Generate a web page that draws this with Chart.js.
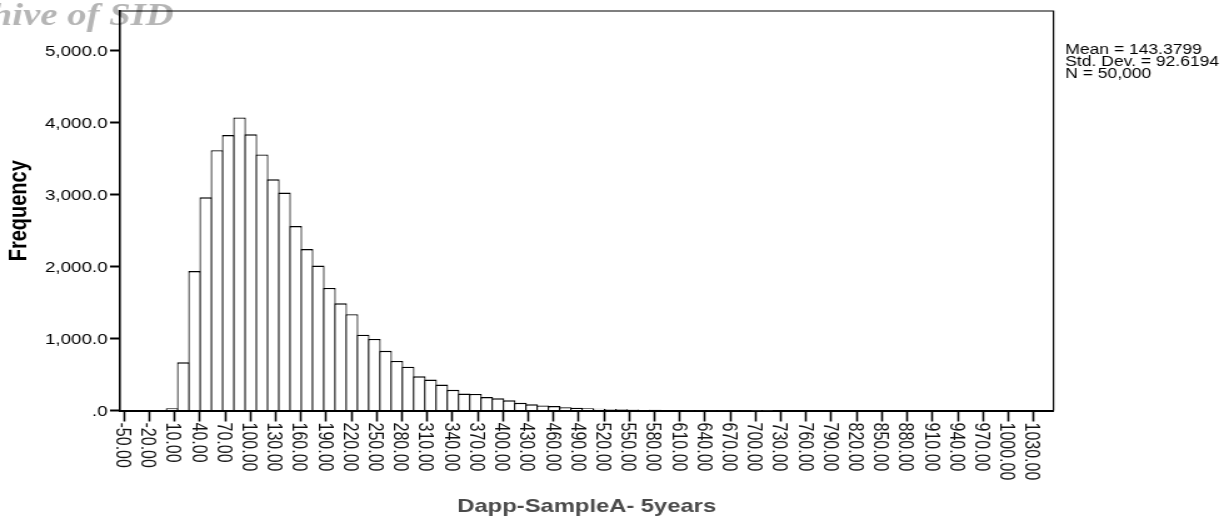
<!DOCTYPE html>
<html>
<head>
<meta charset="utf-8">
<title>Dapp-SampleA- 5years</title>
<script src="https://cdn.jsdelivr.net/npm/chart.js@4.4.1/dist/chart.umd.min.js"></script>
<style>
  html, body { margin: 0; padding: 0; background: #fff; }
</style>
</head>
<body>
<!-- drawn narrow and widened by css, like the original export -->
<canvas id="histChart" width="983" height="520" style="display:block;width:1229px;height:520px"></canvas>
<script>
// bin midpoints (bin width ~13.35)
const binMids = [
  7.07, 20.42, 33.76, 47.11, 60.45, 73.80, 87.14, 100.49, 113.83, 127.18,
  140.52, 153.87, 167.21, 180.56, 193.90, 207.25, 220.59, 233.94, 247.28, 260.63,
  273.97, 287.32, 300.66, 314.01, 327.35, 340.70, 354.04, 367.39, 380.73, 394.08,
  407.42, 420.77, 434.11, 447.46, 460.80, 474.15, 487.49, 500.84, 514.18, 527.53,
  540.87, 554.22, 567.56, 580.91, 594.25, 607.60, 620.94, 634.29, 647.63, 660.98,
  674.32, 687.67, 701.01, 714.36
];

// counts per bin
const frequencies = [
  30, 670, 1940, 2965, 3620, 3830, 4075, 3840, 3560, 3215,
  3030, 2565, 2245, 2015, 1705, 1490, 1340, 1055, 995, 830,
  690, 610, 475, 430, 360, 287, 235, 230, 188, 170,
  142, 108, 86, 70, 61, 46, 38, 32, 25, 20,
  17, 14, 12, 10, 8, 7, 5, 4, 3, 3,
  2, 2, 1, 1
];

const xTickValues = [
  -50, -20, 10, 40, 70, 100, 130, 160, 190, 220, 250, 280, 310, 340, 370,
  400, 430, 460, 490, 520, 550, 580, 610, 640, 670, 700, 730, 760, 790,
  820, 850, 880, 910, 940, 970, 1000, 1030
];
const yTickValues = [0, 1000, 2000, 3000, 4000, 5000];

const statsLines = ['Mean = 143.3799', 'Std. Dev. = 92.6194', 'N = 50,000'];
const watermark = 'Archive of SID';

const SANS = "'Liberation Sans', Arial, Helvetica, sans-serif";

// top/right frame, rotated x labels, stats box text, watermark
const extras = {
  id: 'extras',
  beforeDraw(chart) {
    const ctx = chart.ctx;
    ctx.save();
    ctx.font = "bold italic 31px 'Liberation Serif', 'DejaVu Serif', serif";
    ctx.fillStyle = '#b5b5b5';
    ctx.textAlign = 'right';
    ctx.textBaseline = 'alphabetic';
    ctx.fillText(watermark, 139, 25);
    ctx.restore();
  },
  afterDraw(chart) {
    const ctx = chart.ctx;
    const area = chart.chartArea;
    const xs = chart.scales.x;
    ctx.save();

    ctx.strokeStyle = '#000';
    ctx.lineWidth = 1.2;
    ctx.beginPath();
    ctx.moveTo(area.left, area.top);
    ctx.lineTo(area.right, area.top);
    ctx.lineTo(area.right, area.bottom);
    ctx.stroke();

    ctx.font = '16px ' + SANS;
    ctx.fillStyle = '#111';
    ctx.textAlign = 'left';
    ctx.textBaseline = 'middle';
    xs.ticks.forEach(t => {
      const px = xs.getPixelForValue(t.value);
      ctx.save();
      ctx.translate(px - 1.8, area.bottom + 12);
      ctx.rotate(Math.PI / 2);
      ctx.fillText(t.value.toFixed(2), 0, 0);
      ctx.restore();
    });

    ctx.font = '14px ' + SANS;
    ctx.fillStyle = '#000';
    statsLines.forEach((line, i) => {
      ctx.fillText(line, 852, 50 + i * 12);
    });
    ctx.restore();
  }
};

const ctx = document.getElementById('histChart').getContext('2d');
const histChart = new Chart(ctx, {
  type: 'bar',
  data: {
    datasets: [{
      data: binMids.map((m, i) => ({ x: m, y: frequencies[i] })),
      backgroundColor: '#fff',
      borderColor: '#000',
      borderWidth: { top: 1.4, left: 1.2, right: 1.2, bottom: 0 },
      borderSkipped: 'start',
      barPercentage: 1.133,
      categoryPercentage: 1
    }]
  },
  options: {
    responsive: false,
    devicePixelRatio: 1,
    animation: false,
    layout: { padding: { left: 0, top: 10, right: 140.4, bottom: 0 } },
    plugins: {
      legend: { display: false },
      tooltip: { enabled: false }
    },
    scales: {
      x: {
        type: 'linear',
        min: -54.75,
        max: 1053.7,
        offset: false,
        afterBuildTicks: scale => { scale.ticks = xTickValues.map(v => ({ value: v })); },
        afterFit: scale => { scale.height = 109.5; },
        grid: {
          offset: false,
          drawOnChartArea: false,
          drawTicks: true,
          tickLength: 11,
          tickWidth: 1.6,
          tickColor: '#000'
        },
        border: { display: true, color: '#000', width: 2 },
        ticks: { display: false },
        title: {
          display: true,
          text: 'Dapp-SampleA- 5years',
          color: '#4a4a4a',
          font: { family: SANS, size: 19, weight: 'bold' },
          padding: { top: 0, bottom: 2 }
        }
      },
      y: {
        min: 0,
        max: 5555,
        afterBuildTicks: scale => { scale.ticks = yTickValues.map(v => ({ value: v })); },
        afterFit: scale => { scale.width = 96; },
        grid: {
          drawOnChartArea: false,
          drawTicks: true,
          tickLength: 8,
          tickWidth: 2,
          tickColor: '#000'
        },
        border: { display: true, color: '#000', width: 1.6 },
        ticks: {
          color: '#000',
          padding: 2,
          labelOffset: 1,
          font: { family: SANS, size: 15 },
          callback: v => v === 0 ? '.0' : v.toLocaleString('en-US', { minimumFractionDigits: 1, maximumFractionDigits: 1 })
        },
        title: {
          display: true,
          text: 'Frequency',
          color: '#000',
          font: { family: SANS, size: 20, weight: 'bold' },
          padding: { top: 3, bottom: 0 }
        }
      }
    }
  },
  plugins: [extras]
});
</script>
</body>
</html>
